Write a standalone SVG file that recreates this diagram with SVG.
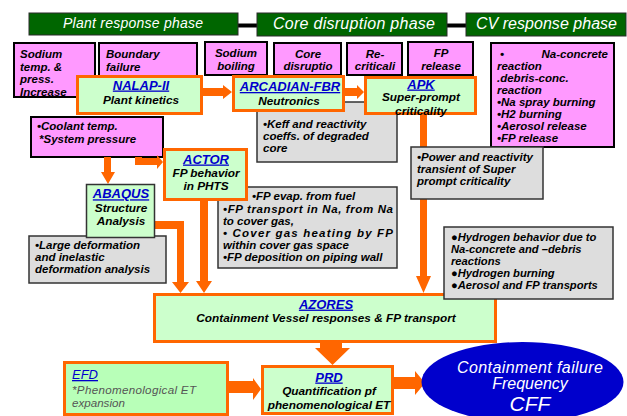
<svg xmlns="http://www.w3.org/2000/svg" width="627" height="416" viewBox="0 0 627 416">
<style>
.hdr{fill:#006600;stroke:#2a2a2a;stroke-width:1}
.ht{font-family:"Liberation Sans",Arial,sans-serif;font-style:italic;fill:#ffffff;text-anchor:middle}
.pink{fill:#ff99ff;stroke:#000;stroke-width:2}
.green{fill:#ccffcc;stroke:#ff6600;stroke-width:3}
.gray{fill:#dddddd;stroke:#333;stroke-width:1.5}
.t{font-family:"Liberation Sans",Arial,sans-serif;font-style:italic;font-weight:bold;font-size:11.5px;fill:#000}
.c{text-anchor:middle}
.ti{font-family:"Liberation Sans",Arial,sans-serif;font-style:italic;font-weight:bold;font-size:13px;fill:#0000cc;text-decoration:underline;text-anchor:middle}
.sub{font-family:"Liberation Sans",Arial,sans-serif;font-style:italic;font-weight:bold;font-size:11.8px;fill:#000;text-anchor:middle}
.g{font-size:11.2px}
.arr{fill:#ff6600}
</style>

<!-- phase headers -->
<g id="phases">
<line x1="238" y1="25.5" x2="257" y2="25.5" stroke="#000" stroke-width="4"/>
<line x1="447" y1="25.5" x2="466" y2="25.5" stroke="#000" stroke-width="4"/>
<g id="plant-phase"><rect class="hdr" x="29" y="13" width="209" height="22"/><text class="ht" x="133" y="27.5" font-size="14" textLength="140">Plant response phase</text></g>
<g id="core-phase"><rect class="hdr" x="257" y="13" width="190" height="23"/><text class="ht" x="354" y="29" font-size="16" textLength="162">Core disruption phase</text></g>
<g id="cv-phase"><rect class="hdr" x="466" y="13" width="160" height="23"/><text class="ht" x="546.5" y="29" font-size="16" textLength="141">CV response phase</text></g>
</g>

<!-- pink event boxes -->
<g id="sodium-temp"><rect class="pink" x="14" y="43" width="81" height="54"/>
<text class="t"><tspan x="20" y="58">Sodium</tspan><tspan x="20" y="70.5">temp.  &amp;</tspan><tspan x="20" y="83">press.</tspan><tspan x="20" y="95.5">Increase</tspan></text></g>
<g id="boundary-failure"><rect class="pink" x="99" y="43" width="98" height="42"/>
<text class="t"><tspan x="106" y="58">Boundary</tspan><tspan x="106" y="70.5">failure</tspan></text></g>
<g id="sodium-boiling"><rect class="pink" x="205" y="42" width="62" height="33"/>
<text class="t c"><tspan x="236" y="56.5">Sodium</tspan><tspan x="236" y="69.5">boiling</tspan></text></g>
<g id="core-disruption"><rect class="pink" x="274" y="43" width="67" height="32"/>
<text class="t c"><tspan x="308" y="58">Core</tspan><tspan x="308" y="70">disruptio</tspan></text></g>
<g id="recriticality"><rect class="pink" x="347" y="43" width="55" height="32"/>
<text class="t c"><tspan x="375" y="58">Re-</tspan><tspan x="375" y="70">criticali</tspan></text></g>
<g id="fp-release"><rect class="pink" x="408" y="42" width="65" height="33"/>
<text class="t c"><tspan x="441" y="56.5">FP</tspan><tspan x="441" y="69.5">release</tspan></text></g>
<g id="cv-events"><rect class="pink" x="491" y="43" width="123" height="104"/>
<text class="t"><tspan x="500" y="58">•</tspan><tspan x="608" y="58" text-anchor="end">Na-concrete</tspan><tspan x="497" y="70">reaction</tspan><tspan x="497" y="82">.debris-conc.</tspan><tspan x="497" y="94">reaction</tspan><tspan x="497" y="106">•Na spray burning</tspan><tspan x="497" y="118">•H2 burning</tspan><tspan x="497" y="130">•Aerosol release</tspan><tspan x="497" y="142">•FP release</tspan></text></g>
<g id="coolant"><rect class="pink" x="31" y="117" width="132" height="40"/>
<text class="t"><tspan x="37" y="130">•Coolant temp.</tspan><tspan x="39" y="142.5">*System pressure</tspan></text></g>

<!-- connectors -->
<g id="connectors">
<polygon class="arr" points="203,88 223,88 223,85 232,92 223,99 223,96 203,96"/>
<polygon class="arr" points="345,88 357,88 357,85 364,92 357,99 357,96 345,96"/>
<polygon class="arr" points="420,115 427,115 427,276 431,276 423.5,293 416,276 420,276"/>
<polygon class="arr" points="104,157 111,157 111,172 115,172 108,184 101,172 104,172"/>
<polygon class="arr" points="135,157 142,157 142,158 157,158 157,155 163,162 157,169 157,165 135,165"/>
<polygon class="arr" points="155,221 184,221 184,282 189,282 180.5,293 172,282 177,282 177,229 155,229"/>
<polygon class="arr" points="200,201 208,201 208,281 212,281 204,293 196,281 200,281"/>
<polygon class="arr" points="320,342 342,342 342,348 350,348 332.5,365 315,348 320,348"/>
<polygon class="arr" points="229,381 253,381 253,378 261,389 253,400 253,393 229,393"/>
<polygon class="arr" points="394,377 415,377 415,371 425,383 415,395 415,389 394,389"/>
</g>

<!-- gray notes -->
<g id="keff-note"><rect class="gray" x="257" y="102" width="140" height="60"/>
<text class="t"><tspan x="263" y="128">•Keff and reactivity</tspan><tspan x="263" y="140">coeffs. of degraded</tspan><tspan x="263" y="152">core</tspan></text></g>
<g id="power-note"><rect class="gray" x="411" y="147" width="132" height="52"/>
<text class="t"><tspan x="417" y="160.5">•Power and reactivity</tspan><tspan x="417" y="172.5">transient of Super</tspan><tspan x="417" y="184.5">prompt criticality</tspan></text></g>
<g id="fp-note"><rect class="gray" x="218" y="187" width="179" height="81"/>
<text class="t"><tspan x="252" y="200">•FP evap. from fuel</tspan></text>
<text class="t" x="223" y="212.5" textLength="170" lengthAdjust="spacing">•FP transport in Na, from Na</text>
<text class="t" x="223" y="225">to cover gas,</text>
<text class="t" x="223" y="237" textLength="170" lengthAdjust="spacing">• Cover gas heating by FP</text>
<text class="t" x="223" y="249">within cover gas space</text>
<text class="t" x="223" y="261">•FP deposition on piping wall</text></g>
<g id="deformation-note"><rect class="gray" x="29" y="236" width="137" height="47"/>
<text class="t"><tspan x="35" y="249">•Large deformation</tspan><tspan x="35" y="261">and inelastic</tspan><tspan x="35" y="272.5">deformation analysis</tspan></text></g>

<!-- code nodes -->
<g id="nalap"><rect class="green" x="77.5" y="76.5" width="124" height="37"/>
<text class="ti" x="141" y="89.5">NALAP-II</text><text class="sub" x="141" y="103.5">Plant kinetics</text></g>
<g id="arcadian"><rect class="green" x="233.5" y="76.5" width="110" height="34"/>
<text class="ti" x="290" y="91">ARCADIAN-FBR</text><text class="sub" x="289" y="104.5">Neutronics</text></g>
<g id="apk"><rect class="green" x="365.5" y="77.5" width="110" height="36"/>
<text class="ti" x="421" y="88.5" font-size="12.5">APK</text><text class="sub" x="421" y="101" font-size="10.5">Super-prompt</text><text class="sub" x="421" y="114.5" font-size="10.5">criticality</text></g>
<g id="actor"><rect class="green" x="164.5" y="149.5" width="82" height="50"/>
<text class="ti" x="206" y="163.5">ACTOR</text><text class="sub" x="206" y="177">FP behavior</text><text class="sub" x="206" y="189.5">in PHTS</text></g>
<g id="abaqus"><rect x="86.5" y="184.5" width="68" height="53" fill="#ccffcc" stroke="#333" stroke-width="1.5"/>
<text class="ti" x="121" y="198.3">ABAQUS</text><text class="sub" x="121" y="212">Structure</text><text class="sub" x="121" y="224.7">Analysis</text></g>
<g id="azores"><rect class="green" x="154.5" y="294.5" width="341" height="47"/>
<text class="ti" x="326" y="308.6">AZORES</text><text class="sub" x="326" y="322" font-size="11.6">Containment Vessel responses &amp; FP transport</text></g>
<g id="efd"><rect x="64.5" y="362.5" width="163" height="52" fill="#b8ffb8" stroke="#ff6600" stroke-width="3"/>
<text x="72" y="379" font-family="Liberation Sans, Arial, sans-serif" font-style="italic" font-size="13" fill="#0000cc" text-decoration="underline">EFD</text>
<text font-family="Liberation Sans, Arial, sans-serif" font-style="italic" font-size="11.6" fill="#555555"><tspan x="72" y="394" textLength="124">*Phenomenological ET</tspan><tspan x="72" y="406.5">expansion</tspan></text></g>
<g id="prd"><rect class="green" x="262.5" y="366.5" width="130" height="47"/>
<text class="ti" x="329" y="381.5">PRD</text><text class="sub" x="329" y="395.3">Quantification pf</text><text class="sub" x="329" y="408.6">phenomenological ET</text></g>

<g id="hydrogen-note"><rect class="gray" x="444" y="227" width="169" height="72"/>
<text class="t g"><tspan x="451" y="241">●Hydrogen behavior due to</tspan><tspan x="451" y="253">Na-concrete and –debris</tspan><tspan x="451" y="265">reactions</tspan><tspan x="451" y="277">●Hydrogen burning</tspan><tspan x="451" y="288.5">●Aerosol and FP transports</tspan></text></g>

<g id="cff"><ellipse cx="522.5" cy="382" rx="101" ry="40" fill="#0000cc"/>
<text font-family="Liberation Sans, Arial, sans-serif" font-style="italic" fill="#ffffff" text-anchor="middle"><tspan x="530" y="373" font-size="16" textLength="146">Containment failure</tspan><tspan x="530" y="389" font-size="16">Frequency</tspan><tspan x="530" y="411" font-size="21">CFF</tspan></text></g>
</svg>
